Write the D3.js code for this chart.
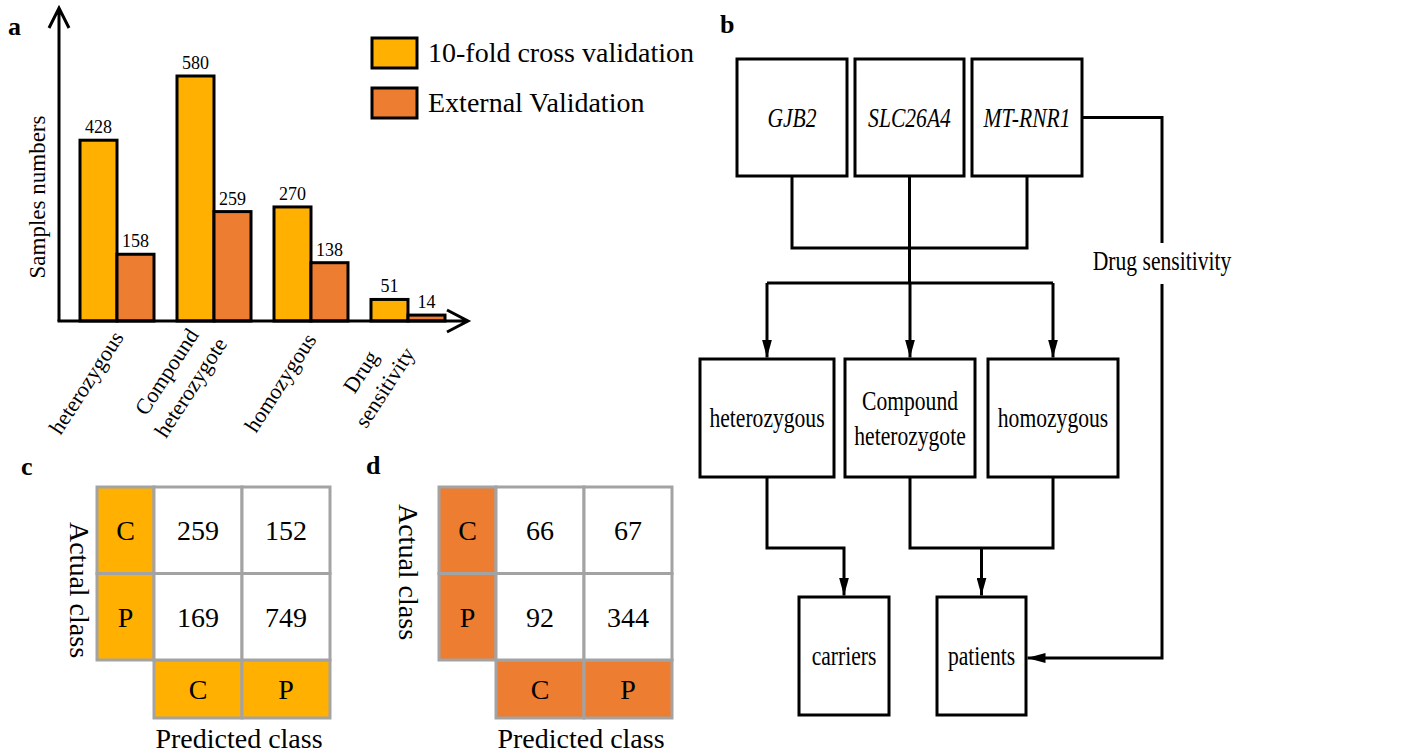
<!DOCTYPE html>
<html>
<head>
<meta charset="utf-8">
<script src="https://cdn.jsdelivr.net/npm/d3@7"></script>
<style>
  body { margin: 0; background: #fff; }
  svg { display: block; }
  text { font-family: "Liberation Serif", "Times New Roman", serif; fill: #000; }
</style>
</head>
<body>
<svg id="fig" width="1404" height="755"></svg>
<script>
// ---- data ----
const categories = ["heterozygous", "Compound heterozygote", "homozygous", "Drug sensitivity"];
const seriesNames = ["10-fold cross validation", "External Validation"];
const crossValidation = [428, 580, 270, 51];
const externalValidation = [158, 259, 138, 14];

const classLabels = ["C", "P"];
const cvMatrix = [[259, 152], [169, 749]];
const extMatrix = [[66, 67], [92, 344]];

const geneNodes = ["GJB2", "SLC26A4", "MT-RNR1"];
const genotypeNodes = ["heterozygous", "Compound heterozygote", "homozygous"];
const outcomeNodes = ["carriers", "patients"];
const drugLabel = "Drug sensitivity";

// ---- style ----
const YELLOW = "#FFB000";
const ORANGE = "#ED7D31";
const GRID = "#A3A3A3";
const seriesColors = [YELLOW, ORANGE];

const svg = d3.select("#fig");

// panel letters
svg.selectAll("text.panel")
  .data([["a", 8, 35], ["b", 720, 33], ["c", 21, 475], ["d", 366, 474]])
  .join("text")
  .attr("class", "panel")
  .attr("x", d => d[1]).attr("y", d => d[2])
  .style("font-size", "26px").style("font-weight", "bold")
  .text(d => d[0]);

// ================= panel a: grouped bars =================
const a = svg.append("g");
const x0 = d3.scaleBand().domain(categories).range([59, 466]).paddingInner(0.237).paddingOuter(0.2165);
const x1 = d3.scaleBand().domain(d3.range(seriesNames.length)).range([0, x0.bandwidth()]);
const y = d3.scaleLinear().domain([0, 580]).range([321, 76]);
const series = [crossValidation, externalValidation];

const groups = a.selectAll("g.grp").data(categories).join("g")
  .attr("transform", c => `translate(${x0(c)},0)`);

groups.selectAll("rect").data((c, i) => series.map((s, k) => ({ k, v: s[i] })))
  .join("rect")
  .attr("x", d => x1(d.k)).attr("width", x1.bandwidth())
  .attr("y", d => y(d.v)).attr("height", d => y(0) - y(d.v))
  .attr("fill", d => seriesColors[d.k])
  .attr("stroke", "#000").attr("stroke-width", 3);

groups.selectAll("text.val").data((c, i) => series.map((s, k) => ({ k, v: s[i] })))
  .join("text").attr("class", "val")
  .attr("x", d => x1(d.k) + x1.bandwidth() / 2)
  .attr("y", d => y(d.v) - 7)
  .attr("text-anchor", "middle").style("font-size", "18px")
  .text(d => d.v);

// axes with open arrowheads
const yBase = y.range()[0];
const xLeft = x0.range()[0], xRight = 468;
a.append("path")
  .attr("d", `M${xLeft},${yBase}V${10}M${xLeft - 10},${28}L${xLeft},${8}L${xLeft + 10},${28}`)
  .attr("fill", "none").attr("stroke", "#000").attr("stroke-width", 3);
a.append("path")
  .attr("d", `M${xLeft - 1.5},${yBase}H${xRight - 2}M${xRight - 21},${yBase - 11}L${xRight},${yBase}L${xRight - 21},${yBase + 11}`)
  .attr("fill", "none").attr("stroke", "#000").attr("stroke-width", 3);

a.append("text")
  .attr("transform", `translate(45,197) rotate(-90)`)
  .attr("text-anchor", "middle").style("font-size", "23px")
  .text("Samples numbers");

// rotated category labels
const catLabels = a.selectAll("text.cat").data(categories).join("text")
  .attr("class", "cat")
  .attr("transform", c => `translate(${x0(c) + x0.bandwidth() / 2 - 30},383) rotate(-57)`)
  .attr("text-anchor", "middle").style("font-size", "22px");
catLabels.each(function (c) {
  const words = c.split(" ");
  const t = d3.select(this);
  words.forEach((w, i) => {
    t.append("tspan").attr("x", 0)
      .attr("dy", words.length === 1 ? "0.3em" : (i === 0 ? "-0.6em" : "1.3em"))
      .text(w);
  });
});

// legend
const legend = a.selectAll("g.leg").data(seriesNames).join("g")
  .attr("transform", (d, i) => `translate(372,${38 + i * 50})`);
legend.append("rect").attr("width", 45).attr("height", 30)
  .attr("fill", (d, i) => seriesColors[i]).attr("stroke", "#000").attr("stroke-width", 3);
legend.append("text").attr("x", 56).attr("y", 24).style("font-size", "28px").text(d => d);

// ================= panels c, d: confusion matrices =================
function confusion(matrix, color, ox, actualX, actualY) {
  const g = svg.append("g");
  const hw = 57, cw = 88, rh = 86.5, bh = 58, oy = 487;
  const cols = d3.scaleBand().domain(classLabels).range([ox + hw, ox + hw + 2 * cw]);
  const rows = d3.scaleBand().domain(classLabels).range([oy, oy + 2 * rh]);
  const stroke = sel => sel.attr("stroke", GRID).attr("stroke-width", 3);

  // row headers
  g.selectAll("rect.rh").data(classLabels).join("rect").attr("class", "rh")
    .attr("x", ox).attr("y", d => rows(d)).attr("width", hw).attr("height", rows.bandwidth())
    .attr("fill", color).call(stroke);
  g.selectAll("text.rh").data(classLabels).join("text").attr("class", "rh")
    .attr("x", ox + hw / 2).attr("y", d => rows(d) + rows.bandwidth() / 2 + 10)
    .attr("text-anchor", "middle").style("font-size", "28px").text(d => d);

  // column headers
  const yb = oy + 2 * rh;
  g.selectAll("rect.ch").data(classLabels).join("rect").attr("class", "ch")
    .attr("x", d => cols(d)).attr("y", yb).attr("width", cols.bandwidth()).attr("height", bh)
    .attr("fill", color).call(stroke);
  g.selectAll("text.ch").data(classLabels).join("text").attr("class", "ch")
    .attr("x", d => cols(d) + cols.bandwidth() / 2).attr("y", yb + bh / 2 + 10)
    .attr("text-anchor", "middle").style("font-size", "28px").text(d => d);

  // counts
  const cells = [];
  matrix.forEach((r, i) => r.forEach((v, j) => cells.push({ r: classLabels[i], c: classLabels[j], v })));
  g.selectAll("rect.cell").data(cells).join("rect").attr("class", "cell")
    .attr("x", d => cols(d.c)).attr("y", d => rows(d.r))
    .attr("width", cols.bandwidth()).attr("height", rows.bandwidth())
    .attr("fill", "#fff").call(stroke);
  g.selectAll("text.cell").data(cells).join("text").attr("class", "cell")
    .attr("x", d => cols(d.c) + cols.bandwidth() / 2)
    .attr("y", d => rows(d.r) + rows.bandwidth() / 2 + 10)
    .attr("text-anchor", "middle").style("font-size", "28px").text(d => d.v);

  g.append("text").attr("transform", `translate(${actualX},${actualY}) rotate(90)`)
    .attr("text-anchor", "middle").style("font-size", "28px").text("Actual class");
  g.append("text").attr("x", ox + hw + cw - 3).attr("y", 748)
    .attr("text-anchor", "middle").style("font-size", "28px").text("Predicted class");
}
confusion(cvMatrix, YELLOW, 97, 70, 590);
confusion(extMatrix, ORANGE, 439, 399, 572);

// ================= panel b: flowchart =================
const b = svg.append("g");
svg.append("defs").append("marker")
  .attr("id", "arrow").attr("markerUnits", "userSpaceOnUse")
  .attr("viewBox", "0 0 18 10").attr("refX", 18).attr("refY", 5)
  .attr("markerWidth", 18).attr("markerHeight", 10).attr("orient", "auto")
  .append("path").attr("d", "M0,0L18,5L0,10Z").attr("fill", "#000");

const geneLayout = { x: [737, 855, 972], w: [110, 109, 110], y: 59, h: 117 };
const genoLayout = { x: [700, 845, 988], w: [134, 130, 130], y: 359, h: 118 };
const outLayout = { x: [799, 937], w: [90, 89], y: 597, h: 118 };
const boxes = [
  ...geneNodes.map((n, i) => ({ n, italic: true, x: geneLayout.x[i], w: geneLayout.w[i], y: geneLayout.y, h: geneLayout.h })),
  ...genotypeNodes.map((n, i) => ({ n, x: genoLayout.x[i], w: genoLayout.w[i], y: genoLayout.y, h: genoLayout.h })),
  ...outcomeNodes.map((n, i) => ({ n, x: outLayout.x[i], w: outLayout.w[i], y: outLayout.y, h: outLayout.h }))
];
b.selectAll("rect").data(boxes).join("rect")
  .attr("x", d => d.x).attr("y", d => d.y).attr("width", d => d.w).attr("height", d => d.h)
  .attr("fill", "#fff").attr("stroke", "#000").attr("stroke-width", 3);

function condensedText(sel, x, yy, str, italic) {
  return sel.append("text")
    .attr("transform", `translate(${x},${yy}) scale(0.8,1)`)
    .attr("text-anchor", "middle").style("font-size", "27px")
    .style("font-style", italic ? "italic" : "normal").text(str);
}
boxes.forEach(d => {
  const cx = d.x + d.w / 2, cy = d.y + d.h / 2;
  const words = d.n.split(" ");
  if (words.length === 1) condensedText(b, cx, cy + 9, d.n, d.italic);
  else words.forEach((w, i) => condensedText(b, cx, cy + 9 + (i - 0.5) * 35, w, d.italic));
});

const cxOf = (lay, i) => lay.x[i] + lay.w[i] / 2;
const geneBottom = geneLayout.y + geneLayout.h, genoTop = genoLayout.y, genoBottom = genoLayout.y + genoLayout.h;
const outTop = outLayout.y;
const line = d3.line();
const link = (pts, arrow) => b.append("path").attr("d", line(pts))
  .attr("fill", "none").attr("stroke", "#000").attr("stroke-width", 3)
  .attr("marker-end", arrow ? "url(#arrow)" : null);

const mergeY = 248, splitY = 283, joinY = 548, sideX = 1162;
link([[cxOf(geneLayout, 0), geneBottom], [cxOf(geneLayout, 0), mergeY], [cxOf(geneLayout, 2), mergeY], [cxOf(geneLayout, 2), geneBottom]]);
link([[cxOf(geneLayout, 1), geneBottom], [cxOf(geneLayout, 1), splitY]]);
link([[cxOf(genoLayout, 0), splitY], [cxOf(genoLayout, 2), splitY]]);
genotypeNodes.forEach((n, i) => link([[cxOf(genoLayout, i), splitY], [cxOf(genoLayout, i), genoTop - 1.5]], true));
link([[cxOf(genoLayout, 0), genoBottom], [cxOf(genoLayout, 0), joinY], [cxOf(outLayout, 0), joinY], [cxOf(outLayout, 0), outTop - 1.5]], true);
link([[cxOf(genoLayout, 1), genoBottom], [cxOf(genoLayout, 1), joinY], [cxOf(genoLayout, 2), joinY], [cxOf(genoLayout, 2), genoBottom]]);
link([[cxOf(outLayout, 1), joinY], [cxOf(outLayout, 1), outTop - 1.5]], true);

const geneMidY = geneLayout.y + geneLayout.h / 2;
const outMidY = outLayout.y + 61;
link([[geneLayout.x[2] + geneLayout.w[2], geneMidY], [sideX, geneMidY], [sideX, 243]]);
link([[sideX, 284], [sideX, outMidY], [outLayout.x[1] + outLayout.w[1] + 1.5, outMidY]], true);
condensedText(b, sideX, 270, drugLabel, false);
</script>
</body>
</html>
